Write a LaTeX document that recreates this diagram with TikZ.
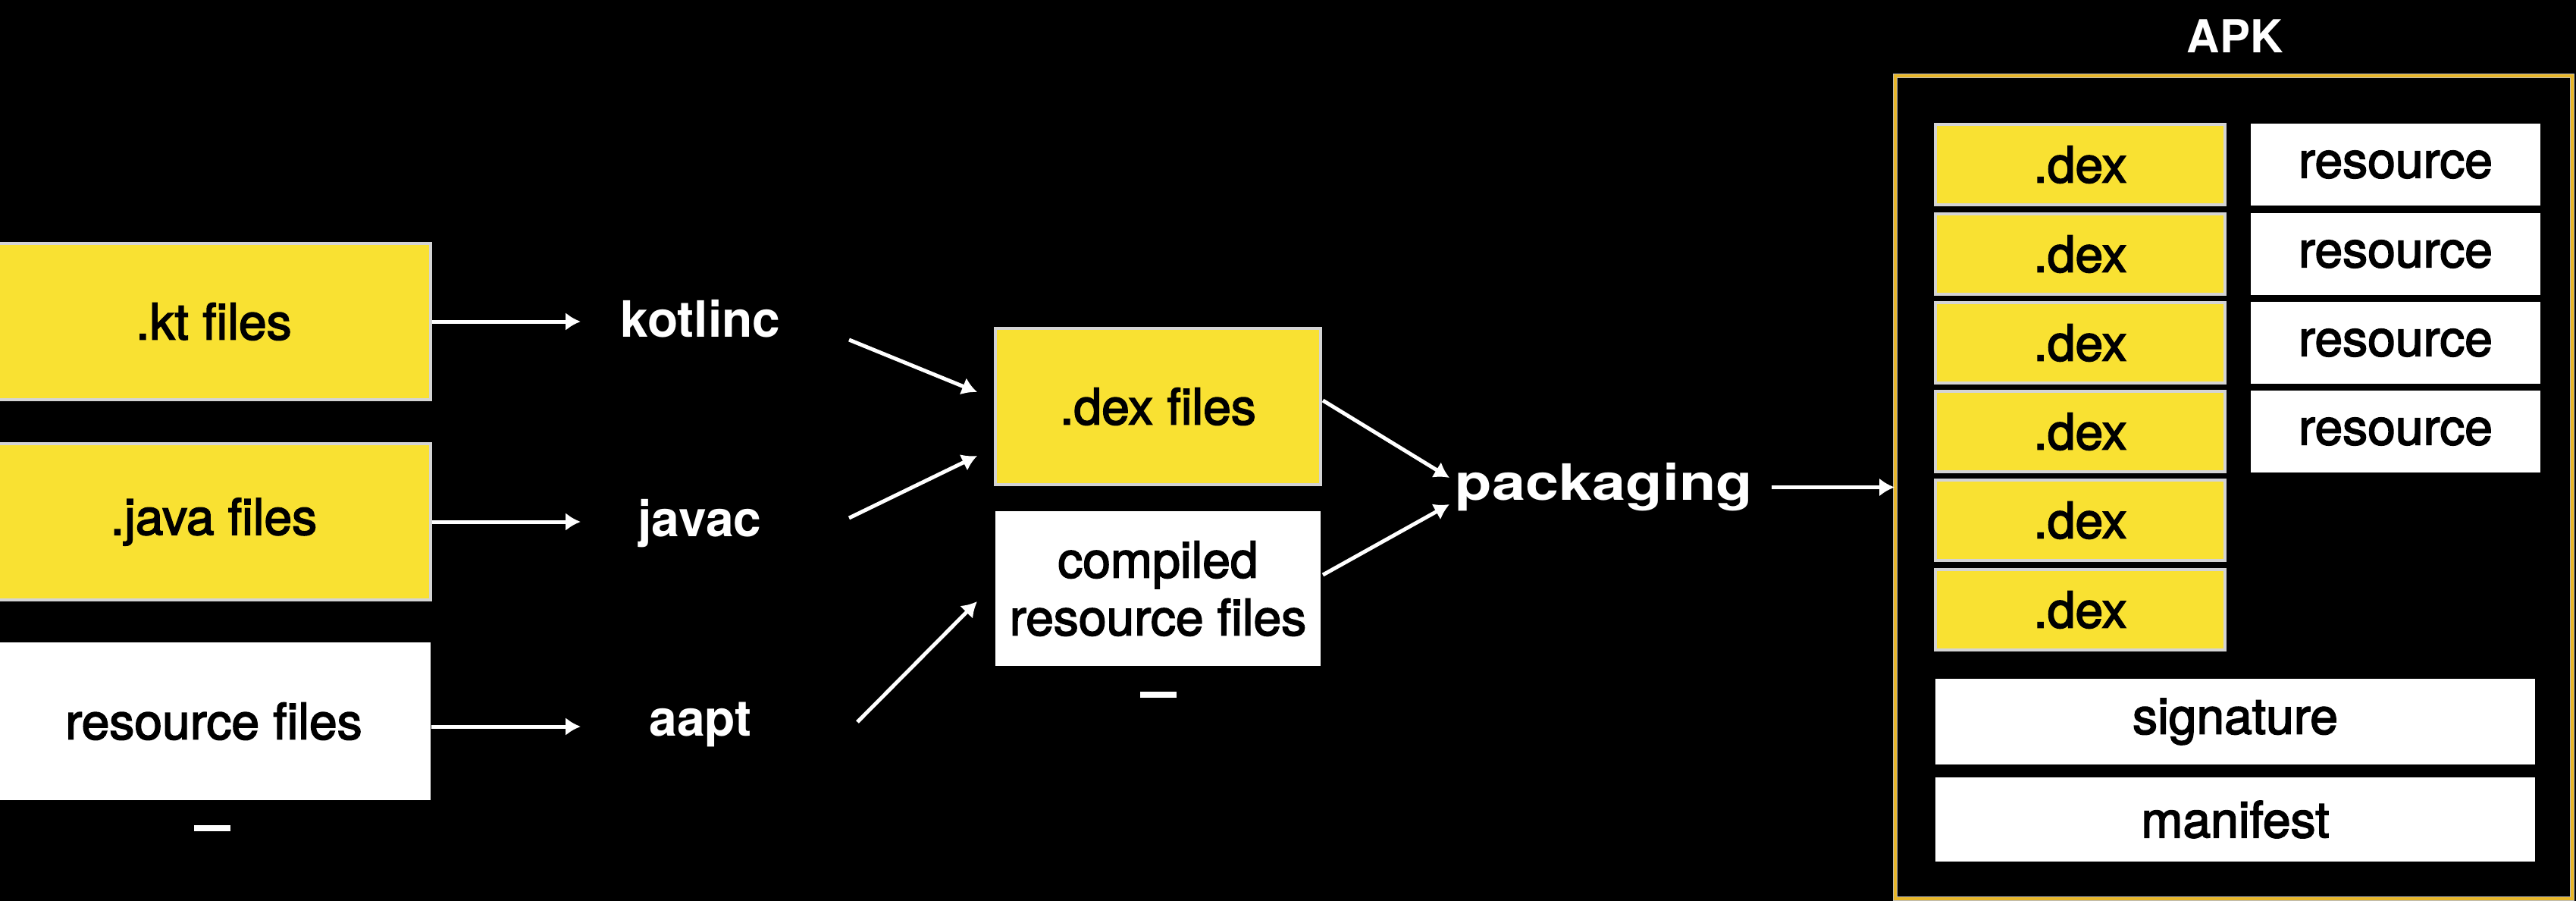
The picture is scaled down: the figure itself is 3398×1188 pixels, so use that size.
\documentclass[tikz,border=0pt]{standalone}
\usepackage{fontspec}
\setmainfont{TeX Gyre Heros}
\newfontfamily\medfont[FakeBold=2.5]{TeX Gyre Heros}
\usetikzlibrary{arrows.meta}
\definecolor{fy}{RGB}{249,225,50}
\definecolor{gb}{RGB}{212,212,212}
\definecolor{gold}{RGB}{232,182,40}
\definecolor{fgray}{RGB}{190,190,190}
\begin{document}
\begin{tikzpicture}[x=0.25pt,y=-0.25pt,
  boxfont/.style={font=\medfont\fontsize{16.5}{19}\selectfont},
  ybox/.style={boxfont, draw=gb, line width=0.9pt, fill=fy, text=black, inner sep=0pt, align=center},
  wbox/.style={boxfont, fill=white, text=black, inner sep=0pt, align=center},
  tool/.style={text=white, font=\fontsize{16.5}{19}\selectfont\bfseries, inner sep=0pt},
  arr/.style={draw=white, line width=1.25pt, -{Latex[length=5pt,width=6pt]}},
  dashbar/.style={fill=white, inner sep=0pt, minimum width=12pt, minimum height=2pt}
]
\useasboundingbox[fill=black] (0,0) rectangle (3398,1188);

% left sources
\node[ybox, minimum width=143pt, minimum height=51.5pt] (kt) at (282,424) {.kt files};
\node[ybox, minimum width=143pt, minimum height=51.5pt] (java) at (282,688) {.java files};
\node[wbox, minimum width=143pt, minimum height=52pt] (res) at (282,951) {resource files};
\node[dashbar] (d1) at (280,1092) {};

% tools
\node[tool] (kotlinc) at (924,420) {kotlinc};
\node[tool] (javac) at (923,690) {javac};
\node[tool] (aapt) at (924,955) {aapt};

% middle
\node[ybox, minimum width=107.25pt, minimum height=51.5pt] (dex) at (1527.5,536) {.dex files};
\node[wbox, minimum width=107.25pt, minimum height=51pt] (comp) at (1527.5,776) {compiled\\resource files};
\node[dashbar] (d2) at (1528,916) {};

\node[tool] (pkg) at (2116,642) {\scalebox{1.2}[1]{packaging}};

% APK frame
\node[font=\fontsize{15}{18}\selectfont\bfseries, text=white, inner sep=0pt] (apkt) at (2948,48) {APK};
\node[draw=fgray, line width=0.45pt, double=gold, double distance=0.8pt, minimum width=223.25pt, minimum height=271.25pt, inner sep=0pt] (apk) at (2946.5,642.5) {};

\foreach \i/\y in {1/217,2/335,3/452,4/569,5/686,6/804}{
  \node[ybox, minimum width=95.5pt, minimum height=26.5pt] (dx\i) at (2744,\y) {.dex};
}
\foreach \i/\y in {1/217,2/335,3/452,4/569}{
  \node[wbox, minimum width=95.5pt, minimum height=27pt] (rs\i) at (3160,\y) {resource};
}
\node[wbox, minimum width=197.75pt, minimum height=28.25pt] (sig) at (2948.5,951.5) {signature};
\node[wbox, minimum width=197.75pt, minimum height=27.75pt] (man) at (2948.5,1080.5) {manifest};

% connector end points
\coordinate (ktE) at (766,424);
\coordinate (javaE) at (766,688);
\coordinate (resE) at (766,958);
\coordinate (k1) at (1120,448);
\coordinate (k2) at (1289,517);
\coordinate (j1) at (1120,683);
\coordinate (j2) at (1289,601);
\coordinate (a1) at (1131,952);
\coordinate (a2) at (1289,793);
\coordinate (x1) at (1745,528);
\coordinate (x2) at (1912,630);
\coordinate (c1) at (1745,758);
\coordinate (c2) at (1912,665);

\draw[arr] (kt.east) -- (ktE);
\draw[arr] (java.east) -- (javaE);
\draw[arr] (res.east |- resE) -- (resE);
\draw[arr] (k1) -- (k2);
\draw[arr] (j1) -- (j2);
\draw[arr] (a1) -- (a2);
\draw[arr] (x1) -- (x2);
\draw[arr] (c1) -- (c2);
\draw[arr, shorten <=6pt] (pkg.east |- apk.west) -- (apk.west);
\end{tikzpicture}
\end{document}
